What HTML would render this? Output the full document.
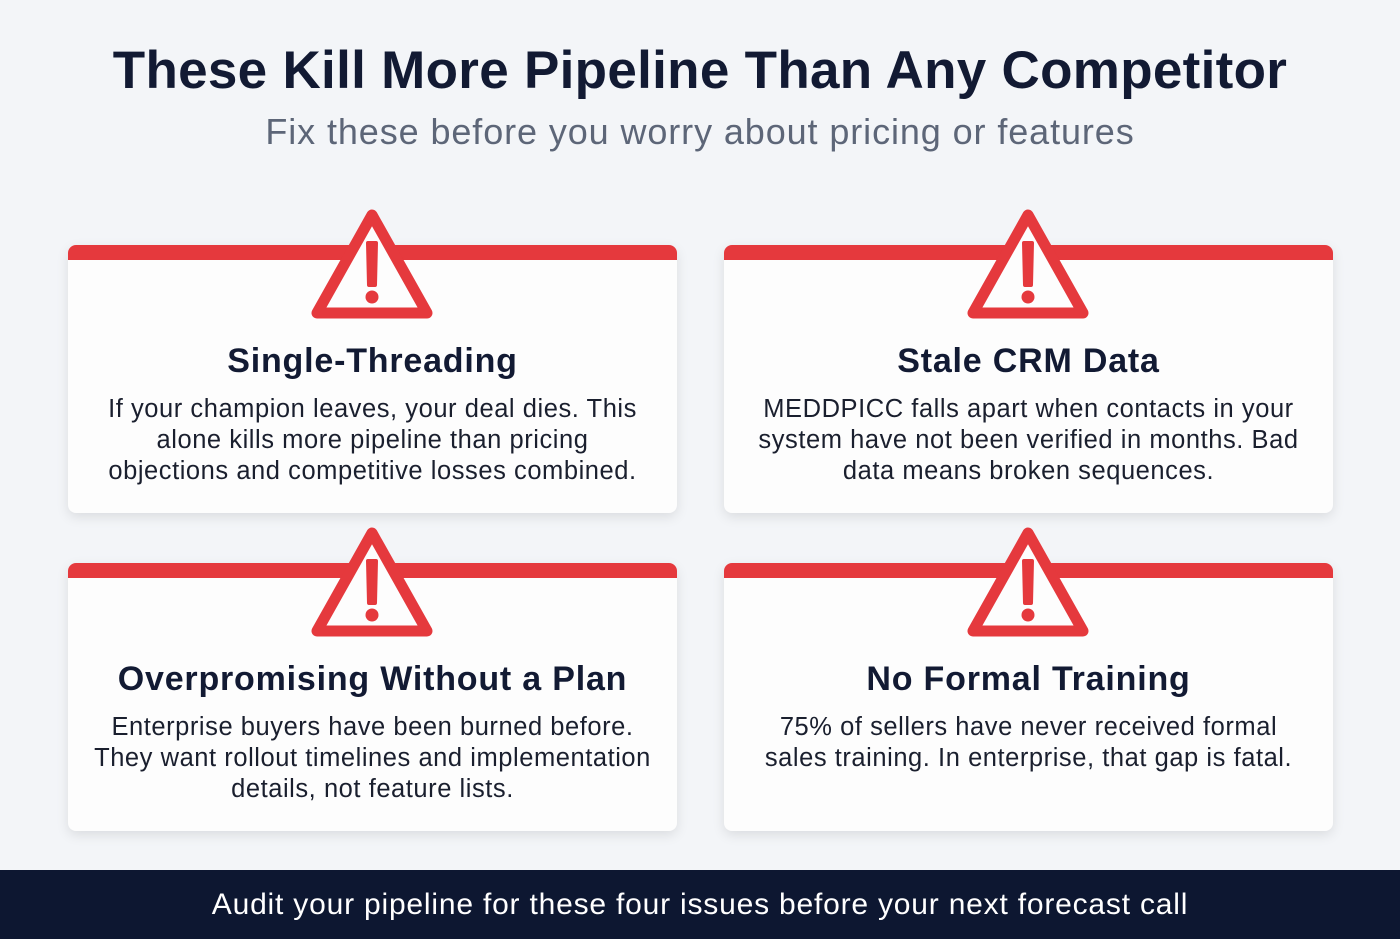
<!DOCTYPE html>
<html><head><meta charset="utf-8"><style>
body{margin:0;width:1400px;height:939px;background:#f3f5f8;font-family:"Liberation Sans",sans-serif;position:relative;overflow:hidden}
.t{position:absolute;left:0;width:1400px;text-align:center}
h1{position:absolute;left:0;width:1400px;top:40px;margin:0;text-align:center;font-size:53px;font-weight:bold;color:#121a33;letter-spacing:0.3px}
.sub{top:111px;font-size:36px;color:#5d6678;letter-spacing:0.9px}
.card{position:absolute;width:609px;height:268px;background:#fdfdfd;border-radius:8px;box-shadow:0 4px 12px rgba(0,0,0,0.10);overflow:hidden}
.card .bar{position:absolute;left:0;top:0;width:100%;height:15px;background:#e5393d}
.card h2{position:absolute;left:0;width:100%;top:97px;margin:0;text-align:center;font-size:34px;font-weight:bold;color:#121a33;letter-spacing:0.8px}
.card p{position:absolute;left:0;width:609px;top:149px;margin:0;text-align:center;font-size:25.5px;line-height:31px;color:#1a1f2e;letter-spacing:0.55px;white-space:nowrap}
svg.tri{position:absolute}
.foot{position:absolute;left:0;top:870px;width:1400px;height:69px;background:#0d1731;color:#fff;text-align:center;font-size:30px;line-height:69px;letter-spacing:0.8px}
</style></head><body>
<h1>These Kill More Pipeline Than Any Competitor</h1>
<div class="t sub">Fix these before you worry about pricing or features</div>

<div class="card" style="left:68px;top:245px"><div class="bar"></div><h2>Single-Threading</h2><p>If your champion leaves, your deal dies. This<br>alone kills more pipeline than pricing<br>objections and competitive losses combined.</p></div>
<div class="card" style="left:724px;top:245px"><div class="bar"></div><h2>Stale CRM Data</h2><p>MEDDPICC falls apart when contacts in your<br>system have not been verified in months. Bad<br>data means broken sequences.</p></div>
<div class="card" style="left:68px;top:563px"><div class="bar"></div><h2>Overpromising Without a Plan</h2><p>Enterprise buyers have been burned before.<br>They want rollout timelines and implementation<br>details, not feature lists.</p></div>
<div class="card" style="left:724px;top:563px"><div class="bar"></div><h2>No Formal Training</h2><p>75% of sellers have never received formal<br>sales training. In enterprise, that gap is fatal.</p></div>

<svg class="tri" style="left:0;top:0" width="1400" height="939">
<defs><g id="w">
<path d="M0,-150 L-55,-52 L55,-52 Z" fill="#fdfdfd" stroke="#e5393d" stroke-width="11" stroke-linejoin="round"/>
<path d="M-4,-122 L4,-122 L3,-80 L-3,-80 Z" fill="#e5393d" stroke="#e5393d" stroke-width="4" stroke-linejoin="round"/>
<circle cx="0" cy="-68" r="6.5" fill="#e5393d"/>
</g></defs>
<use href="#w" x="372" y="365"/>
<use href="#w" x="1028" y="365"/>
<use href="#w" x="372" y="683"/>
<use href="#w" x="1028" y="683"/>
</svg>

<div class="foot">Audit your pipeline for these four issues before your next forecast call</div>
</body></html>
